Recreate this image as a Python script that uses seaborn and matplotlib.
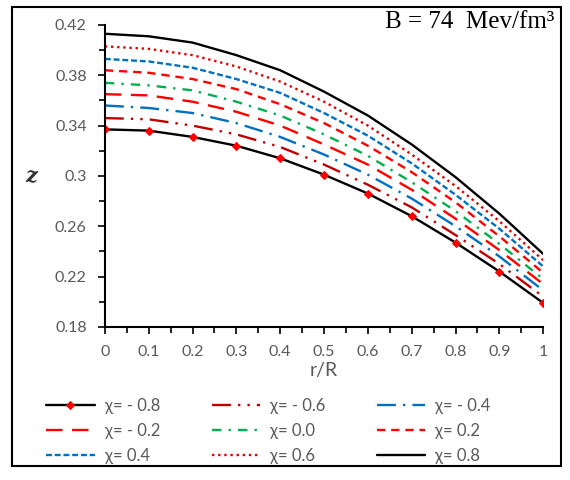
import pandas as pd
import matplotlib.pyplot as plt
import seaborn as sns
from matplotlib.patches import Rectangle
from matplotlib.ticker import MultipleLocator

# r/R positions and z values for each chi
r = [0, 0.1, 0.2, 0.3, 0.4, 0.5, 0.6, 0.7, 0.8, 0.9, 1.0]
z_m08 = [0.337, 0.336, 0.331, 0.324, 0.314, 0.301, 0.286, 0.268, 0.247, 0.224, 0.199]
z_m06 = [0.346, 0.345, 0.340, 0.333, 0.323, 0.309, 0.293, 0.275, 0.253, 0.230, 0.204]
z_m04 = [0.356, 0.354, 0.350, 0.342, 0.331, 0.317, 0.301, 0.282, 0.260, 0.236, 0.209]
z_m02 = [0.365, 0.364, 0.359, 0.351, 0.340, 0.325, 0.309, 0.289, 0.266, 0.241, 0.214]
z_p00 = [0.374, 0.372, 0.368, 0.359, 0.348, 0.333, 0.316, 0.295, 0.272, 0.246, 0.218]
z_p02 = [0.384, 0.382, 0.377, 0.369, 0.357, 0.342, 0.324, 0.303, 0.279, 0.252, 0.223]
z_p04 = [0.393, 0.391, 0.386, 0.377, 0.366, 0.350, 0.332, 0.310, 0.285, 0.258, 0.228]
z_p06 = [0.403, 0.401, 0.396, 0.387, 0.375, 0.359, 0.340, 0.317, 0.292, 0.264, 0.233]
z_p08 = [0.413, 0.411, 0.406, 0.396, 0.384, 0.367, 0.348, 0.325, 0.299, 0.270, 0.238]

labels = ["χ= - 0.8", "χ= - 0.6", "χ= - 0.4", "χ= - 0.2", "χ= 0.0",
          "χ= 0.2", "χ= 0.4", "χ= 0.6", "χ= 0.8"]
series = [z_m08, z_m06, z_m04, z_m02, z_p00, z_p02, z_p04, z_p06, z_p08]

colors = ["black", "#C00000", "#0070C0", "#FF0000", "#00B050",
          "#FF0000", "#0070C0", "#E00000", "black"]
styles = ["-", (0, (8, 3, 1, 3, 1, 3)), (0, (8, 3, 1, 3)), (0, (7, 4)),
          (0, (4, 3, 1, 3)), (0, (3.5, 2.5)), (0, (2.5, 1.2)), (0, (1, 1.6)), "-"]

sns.set_style("white")
plt.rcParams['font.family'] = ['Lato', 'DejaVu Sans']

fig = plt.figure(figsize=(5.7, 4.8), dpi=100)
ax = fig.add_axes([0.184, 0.319, 0.769, 0.629])

for lab, z, c, ls in zip(labels, series, colors, styles):
    df = pd.DataFrame({'r': r, 'z': z})
    if lab == "χ= - 0.8":
        sns.lineplot(x='r', y='z', data=df, ax=ax, color=c, linestyle=ls, lw=1.7,
                     marker='D', markersize=4, markerfacecolor='red',
                     markeredgecolor='red', label=lab, errorbar=None)
    else:
        sns.lineplot(x='r', y='z', data=df, ax=ax, color=c, linestyle=ls, lw=1.7,
                     label=lab, errorbar=None)

ax.set_xlim(0, 1)
ax.set_ylim(0.18, 0.42)
ax.xaxis.set_minor_locator(MultipleLocator(0.05))
ax.yaxis.set_minor_locator(MultipleLocator(0.02))
ax.set_xticks([0, 0.1, 0.2, 0.3, 0.4, 0.5, 0.6, 0.7, 0.8, 0.9, 1.0])
ax.set_xticklabels(['0', '0.1', '0.2', '0.3', '0.4', '0.5', '0.6', '0.7', '0.8', '0.9', '1'])
ax.set_yticks([0.18, 0.22, 0.26, 0.3, 0.34, 0.38, 0.42])
ax.set_yticklabels(['0.18', '0.22', '0.26', '0.3', '0.34', '0.38', '0.42'])
ax.tick_params(which='major', direction='out', length=5, width=1.2, color='black',
               labelsize=11.5, labelcolor='#595959', pad=8, left=True, bottom=True)
ax.tick_params(which='minor', direction='out', length=4, width=1.2, color='black',
               left=True, bottom=True)
for s in ['top', 'right']:
    ax.spines[s].set_visible(False)
for s in ['left', 'bottom']:
    ax.spines[s].set_color('black')
    ax.spines[s].set_linewidth(1.5)

ax.set_xlabel('r/R', fontsize=14, color='#595959', labelpad=2)
ax.set_ylabel('')
fig.text(0.054, 0.633, 'z', family='DejaVu Serif', style='italic', weight='bold',
         fontsize=15, ha='center', va='center', color='#333333')
fig.text(0.972, 0.977, 'B = 74  Mev/fm³', family='Liberation Serif',
         fontsize=18, ha='right', va='top', color='black')

handles, labs = ax.get_legend_handles_labels()
ax.get_legend().remove()
order = [0, 3, 6, 1, 4, 7, 2, 5, 8]
fig.legend([handles[i] for i in order], [labs[i] for i in order], ncol=3,
           loc='center', bbox_to_anchor=(0.471, 0.102), frameon=False, fontsize=12,
           handlelength=2.9, handletextpad=0.6, columnspacing=3.1,
           labelspacing=0.55, labelcolor='#595959')

fig.patches.append(Rectangle((0.021, 0.03), 0.963, 0.955, transform=fig.transFigure,
                             fill=False, edgecolor='black', lw=1.5))

plt.savefig("out.png", dpi=100)
